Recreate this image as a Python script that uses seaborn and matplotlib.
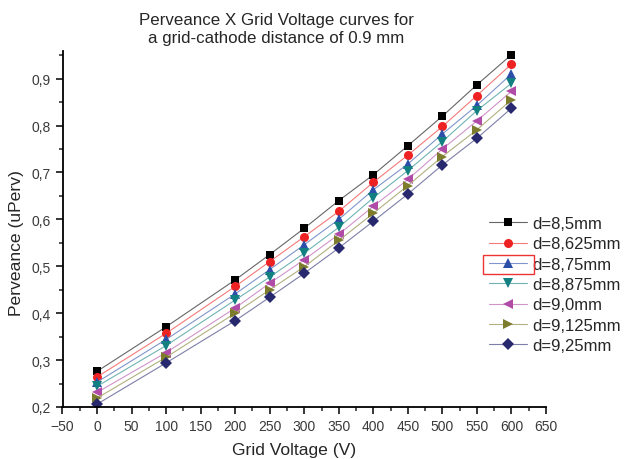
import numpy as np
import pandas as pd
import matplotlib
matplotlib.use("Agg")
import matplotlib.pyplot as plt
import matplotlib.colors as mcolors
import seaborn as sns
from matplotlib.ticker import MultipleLocator, FuncFormatter
from matplotlib.patches import Rectangle

voltage = [0, 100, 200, 250, 300, 350, 400, 450, 500, 550, 600]
labels = ["d=8,5mm", "d=8,625mm", "d=8,75mm", "d=8,875mm", "d=9,0mm", "d=9,125mm", "d=9,25mm"]
d_8_5   = [0.276, 0.371, 0.471, 0.525, 0.581, 0.640, 0.695, 0.757, 0.820, 0.887, 0.951]
d_8_625 = [0.264, 0.357, 0.457, 0.510, 0.563, 0.617, 0.679, 0.737, 0.798, 0.864, 0.931]
d_8_75  = [0.253, 0.344, 0.441, 0.493, 0.546, 0.600, 0.663, 0.718, 0.782, 0.843, 0.910]
d_8_875 = [0.244, 0.331, 0.428, 0.477, 0.528, 0.583, 0.646, 0.704, 0.766, 0.832, 0.890]
d_9_0   = [0.231, 0.316, 0.411, 0.464, 0.514, 0.568, 0.628, 0.685, 0.750, 0.810, 0.873]
d_9_125 = [0.219, 0.306, 0.400, 0.450, 0.499, 0.555, 0.613, 0.672, 0.734, 0.791, 0.855]
d_9_25  = [0.206, 0.294, 0.384, 0.434, 0.485, 0.539, 0.596, 0.654, 0.716, 0.773, 0.837]
series = [d_8_5, d_8_625, d_8_75, d_8_875, d_9_0, d_9_125, d_9_25]

colors = ["#000000", "#EE2222", "#2B4FA8", "#128080", "#B04CA8", "#7C7C2C", "#28286E"]
markers = ["s", "o", "^", "v", "<", ">", "D"]
msizes = [6.0, 6.5, 7.5, 7.5, 7.5, 7.5, 6.0]

rows = []
for lab, vals in zip(labels, series):
    for v, p in zip(voltage, vals):
        rows.append({"Grid Voltage": v, "Perveance": p, "d": lab})
df = pd.DataFrame(rows)

sns.set_style("ticks")
plt.rcParams["font.family"] = ["Liberation Sans", "DejaVu Sans"]

fig = plt.figure(figsize=(6.24, 4.6), dpi=100)
ax = fig.add_axes([62.5/624, 1-408/460, (546-62.5)/624, (408-51.5)/460])

sns.lineplot(data=df, x="Grid Voltage", y="Perveance", hue="d", style="d",
             hue_order=labels, style_order=labels,
             palette=dict(zip(labels, colors)),
             markers=dict(zip(labels, markers)), dashes=False,
             linewidth=0.8, markeredgewidth=0, legend=False, ax=ax)

for ln, ms, c in zip(ax.get_lines(), msizes, colors):
    ln.set_markersize(ms)
    rgb = np.array(mcolors.to_rgb(c))
    pale = 1 - (1 - rgb) * 0.6
    ln.set_color(tuple(pale))
    ln.set_markerfacecolor(c)
    ln.set_markeredgecolor(c)

ax.set_xlim(-50, 650)
ax.set_ylim(0.2, 0.96)
ax.xaxis.set_major_locator(MultipleLocator(50))
ax.xaxis.set_minor_locator(MultipleLocator(25))
ax.yaxis.set_major_locator(MultipleLocator(0.1))
ax.yaxis.set_minor_locator(MultipleLocator(0.05))
ax.yaxis.set_major_formatter(FuncFormatter(lambda v, p: f"{v:.1f}".replace(".", ",")))
ax.tick_params(which="major", direction="out", length=5, width=1.1, labelsize=10, colors="#000000")
ax.tick_params(which="major", labelcolor="#3a3a3a")
ax.tick_params(which="minor", direction="out", length=3, width=1.1)
for s in ["top", "right"]:
    ax.spines[s].set_visible(False)
for s in ["left", "bottom"]:
    ax.spines[s].set_linewidth(1.3)
    ax.spines[s].set_color("#000000")

ax.set_xlabel("Grid Voltage (V)", fontsize=12.6)
ax.set_ylabel("Perveance (uPerv)", fontsize=12.6)
ax.xaxis.set_label_coords((294-62.5)/483.5, (408-443)/356.5)
ax.yaxis.set_label_coords((24-62.5)/483.5, (408-243)/356.5)

fig.text(276/624, 1-30/460, "Perveance X Grid Voltage curves for\na grid-cathode distance of 0.9 mm",
         ha="center", va="center", fontsize=12.2, linespacing=1.25)

leg = ax.legend(ax.get_lines(), labels, loc="upper left",
                bbox_to_anchor=(489/624, 1-217/460), bbox_transform=fig.transFigure,
                frameon=False, fontsize=12, handlelength=2.3, handletextpad=0.3,
                labelspacing=0.32, borderpad=0, borderaxespad=0)

fig.canvas.draw()
r = fig.canvas.get_renderer()
hb = leg.legend_handles[2].get_window_extent(r)
tb = leg.get_texts()[2].get_window_extent(r)
yc = (tb.y0 + tb.y1) / 2
rect = Rectangle((hb.x0 - 1, yc - 9.5), (hb.x1 - hb.x0) + 2, 19, transform=None,
                 fill=False, edgecolor="#EE3333", linewidth=1.0)
fig.patches.append(rect)

fig.savefig("out.png", dpi=100)
